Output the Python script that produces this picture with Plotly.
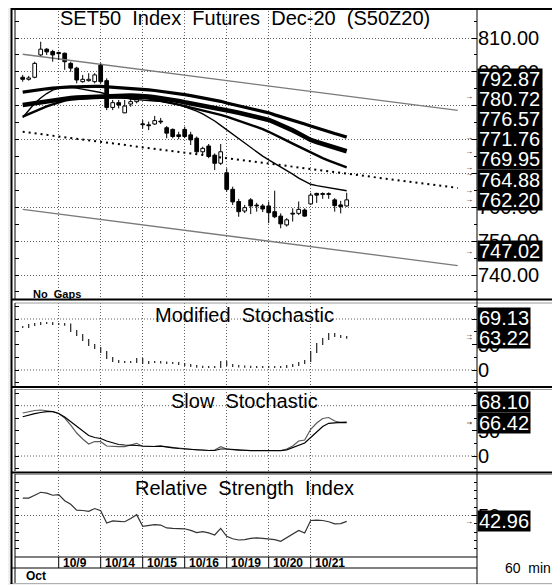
import plotly.graph_objects as go

# ---------------- data ----------------
day_labels = ["10/9", "10/14", "10/15", "10/16", "10/19", "10/20", "10/21"]
day_start_bar = [6, 13, 20, 27, 34, 41, 48]
month_label = "Oct"

opens = [798.4, 797.8, 798.4, 805.0, 806.7, 806.0, 805.7, 805.5, 802.5, 801.1, 797.1, 797.4, 797.1, 802.0, 797.4, 789.5, 790.9, 787.9, 790.5, 791.2,
         784.6, 784.3, 784.6, 785.4, 783.5, 783.0, 781.4, 783.0, 781.4, 780.4, 776.4, 778.1, 775.4, 773.0,
         770.2, 765.3, 761.7, 758.9, 762.2, 760.6, 760.4,
         760.4, 758.7, 757.4, 754.8, 758.2, 758.2, 759.2,
         761.0, 764.1, 764.0, 763.8, 762.2, 760.7, 760.4]
highs = [799.1, 798.8, 803.0, 808.9, 807.0, 806.5, 806.0, 805.7, 803.0, 801.5, 799.1, 799.6, 799.6, 802.5, 798.1, 791.7, 791.7, 791.7, 792.2, 792.7,
         785.8, 785.3, 787.0, 786.4, 784.0, 783.3, 782.3, 783.8, 782.3, 780.9, 777.9, 778.7, 775.9, 778.7,
         771.5, 766.1, 762.5, 760.7, 762.7, 761.3, 761.0,
         761.7, 764.9, 758.2, 756.8, 759.7, 761.7, 759.7,
         764.3, 764.3, 764.4, 764.4, 762.7, 761.9, 764.3]
lows = [797.1, 797.4, 798.1, 804.7, 805.0, 803.0, 803.5, 800.6, 800.0, 796.6, 796.8, 797.1, 796.6, 796.6, 788.7, 788.7, 789.2, 787.8, 789.7, 790.7,
        783.3, 782.8, 784.3, 784.6, 780.4, 780.4, 780.1, 780.4, 778.4, 775.9, 775.4, 774.5, 771.0, 772.5,
        764.6, 760.7, 757.2, 758.3, 758.0, 758.7, 758.6,
        755.3, 756.8, 753.8, 754.3, 755.8, 757.7, 757.2,
        760.7, 761.3, 762.5, 762.5, 758.7, 758.2, 760.2]
closes = [797.8, 798.2, 802.5, 806.7, 805.9, 805.0, 805.4, 803.0, 801.1, 797.6, 797.8, 797.8, 799.1, 797.1, 789.5, 790.9, 790.2, 789.9, 791.2, 791.9,
          784.4, 784.1, 785.6, 785.2, 781.9, 780.9, 780.9, 780.9, 779.9, 776.4, 777.4, 775.0, 773.0, 776.4,
          765.3, 761.6, 758.7, 759.9, 760.4, 760.4, 759.5,
          758.4, 757.2, 755.1, 756.3, 758.0, 759.4, 757.4,
          763.6, 763.6, 763.8, 763.9, 760.5, 760.2, 762.2]

ma_a = [794.0, 794.3, 794.6, 794.8, 795.0, 795.2, 795.4, 795.5, 795.6, 795.6,
        795.7, 795.7, 795.7, 795.7, 795.6, 795.5, 795.4, 795.3, 795.2, 795.0,
        794.9, 794.7, 794.5, 794.3, 794.1, 793.9, 793.6, 793.3, 793.0, 792.7,
        792.4, 792.1, 791.7, 791.3, 790.8, 790.4, 790.0, 789.6, 789.1, 788.7,
        788.3, 787.9, 787.3, 786.8, 786.3, 785.7, 785.1, 784.6, 784.0, 783.4,
        782.9, 782.3, 781.8, 781.3, 780.72]
ma_b = [790.2, 790.5, 790.8, 791.1, 791.3, 791.5, 791.9, 792.1, 792.3, 792.4,
        792.5, 792.6, 792.7, 792.8, 792.9, 792.9, 793.0, 793.0, 793.0, 792.9,
        792.9, 792.7, 792.5, 792.3, 792.0, 791.7, 791.4, 791.0, 790.7, 790.4,
        790.1, 789.8, 789.4, 789.1, 788.7, 788.3, 787.9, 787.5, 787.1, 786.7,
        786.3, 785.8, 785.1, 784.4, 783.6, 782.7, 781.8, 780.8, 779.9, 779.3,
        778.7, 778.1, 777.6, 777.1, 776.57]
ma_c = [786.8, 787.6, 788.4, 789.2, 789.8, 790.4, 791.0, 791.5, 791.8, 792.0,
        792.2, 792.3, 792.4, 792.5, 792.5, 792.5, 792.5, 792.5, 792.5, 792.4,
        792.3, 792.1, 791.8, 791.5, 791.1, 790.7, 790.3, 789.9, 789.5, 789.1,
        788.7, 788.2, 787.8, 787.3, 786.8, 786.2, 785.6, 785.0, 784.4, 783.8,
        783.1, 782.3, 781.5, 780.6, 779.7, 778.8, 777.9, 777.0, 776.1, 775.3,
        774.5, 773.8, 773.1, 772.5, 771.76]
ma_d = [786.5, 788.5, 790.7, 792.3, 793.6, 794.6, 795.2, 795.3, 795.4, 795.2,
        794.9, 794.6, 794.3, 793.9, 793.4, 793.0, 792.6, 792.3, 792.0, 791.8,
        791.6, 791.5, 791.4, 791.3, 791.1, 790.7, 790.3, 789.7, 789.1, 788.4,
        787.6, 786.6, 785.5, 784.2, 782.9, 781.5, 780.2, 778.8, 777.5, 776.3,
        775.1, 774.0, 773.0, 772.0, 771.0, 769.8, 768.6, 767.6, 766.8, 766.4,
        766.1, 765.8, 765.5, 765.2, 764.88]

# regression channel: upper / lower band values at first and last bar, right extension (bar index)
chan_upper = [805.20, 792.87]
chan_lower = [759.40, 747.02]
chan_end_bar = 72.5

mod_stoch = [84.3, 88.2, 90.2, 92.2, 92.2, 90.2, 90.2, 89.0, 76.5, 68.6,
             58.8, 49.0, 43.1, 35.3, 23.5, 17.6, 15.7, 15.7, 15.7, 21.6,
             13.7, 15.7, 15.7, 14.7, 13.7, 13.7, 11.8, 9.8, 7.8, 6.5,
             5.9, 5.9, 5.9, 15.7, 9.8, 7.8, 6.9, 6.5, 5.9, 5.9,
             5.9, 5.9, 5.9, 5.9, 7.8, 9.8, 13.7, 17.6, 35.3, 51.0,
             60.8, 70.6, 66.7, 64.7, 63.22]
mod_stoch_labels = [69.13, 63.22]

slow_k = [85.5, 88.5, 90.5, 91.5, 90.5, 88.5, 84.5, 75.5, 61.6, 45.7,
          33.8, 23.9, 28.8, 28.4, 19.9, 18.9, 18.5, 18.5, 21.9, 25.2,
          18.9, 18.5, 19.3, 19.9, 18.5, 17.3, 14.9, 13.3, 12.9, 11.9,
          11.9, 10.9, 11.9, 18.5, 13.9, 11.9, 10.9, 10.9, 10.9, 10.9,
          10.9, 10.9, 10.9, 10.9, 13.9, 19.9, 29.8, 31.8, 53.1, 65.6,
          74.6, 76.5, 69.6, 66.6, 68.10]
slow_d = [78.1, 81.5, 84.1, 86.5, 88.1, 88.1, 84.5, 77.5, 68.2, 57.7,
          48.3, 40.8, 36.8, 34.8, 29.8, 25.8, 22.9, 21.9, 21.9, 20.9,
          19.9, 18.9, 18.9, 19.5, 18.5, 16.3, 14.9, 13.9, 13.3, 12.3,
          11.3, 10.9, 10.9, 13.9, 13.9, 12.9, 11.3, 10.5, 10.5, 10.5,
          10.5, 10.5, 10.5, 10.5, 12.3, 16.9, 21.9, 25.8, 36.8, 47.7,
          58.6, 65.0, 66.2, 67.0, 66.42]

rsi = [71.0, 71.0, 74.5, 78.0, 77.0, 74.4, 75.2, 67.8, 63.5, 56.5,
       56.0, 55.0, 58.4, 55.7, 41.0, 43.5, 43.0, 42.5, 46.5, 51.0,
       37.0, 38.0, 39.0, 38.5, 35.0, 34.5, 34.5, 34.0, 32.0, 29.5,
       30.5, 29.0, 26.5, 34.5, 25.0, 22.0, 20.5, 21.0, 22.5, 23.0,
       22.5, 22.0, 21.0, 19.0, 23.0, 27.5, 32.0, 29.0, 44.0, 44.5,
       44.0, 42.5, 40.0, 40.2, 42.96]

# axis tick labels (those hidden behind the value boxes are left blank)
main_ticks = [740, 750, 760, 770, 780, 790, 800, 810]
main_tick_text = ["740.00", "750.00", "760.00", "", "", "", "800.00", "810.00"]
osc_ticks = [0, 50, 100]
osc_tick_text = ["0", "50", ""]
rsi_ticks = [50]
rsi_tick_text = ["50"]

# ---------------- geometry (window pixels) ----------------
WIN_W, WIN_H = 560, 585
OFF = 8                      # default page margin of the html body
W, H = WIN_W - OFF, WIN_H - OFF
FONT = "Liberation Sans, Arial, sans-serif"
X0, X1 = 15, 477
BAR0, STEP = 22.7, 6.0


def fx(p):
    return (p - OFF) / W


def fy(p):
    return 1 - (p - OFF) / H


def bar_px(i):
    return BAR0 + STEP * i


xr = [(X0 - BAR0) / STEP, (X1 - BAR0) / STEP]

MAIN_T, MAIN_B = 8, 298
P2_T, P2_B = 303, 386
P3_T, P3_B = 389, 471
P4_T, P4_B = 474, 557

PX_PER_PT = 3.386
main_v2p = lambda v: 38 + (810 - v) * PX_PER_PT
main_range = [810 - (MAIN_B - 38) / PX_PER_PT, 810 + (38 - MAIN_T) / PX_PER_PT]
p2_v2p = lambda v: 370 - 0.51 * v
p2_range = [-(P2_B - 370) / 0.51, (370 - P2_T) / 0.51]
p3_v2p = lambda v: 456 - 0.503 * v
p3_range = [-(P3_B - 456) / 0.503, (456 - P3_T) / 0.503]
p4_v2p = lambda v: P4_B - (P4_B - P4_T) / 100.0 * v
p4_range = [0, 100]

n = len(closes)
idx = list(range(n))

fig = go.Figure()

# ---- main panel ----
last = n - 1


def extend(pair):
    s = (pair[1] - pair[0]) / last
    return [pair[0], pair[0] + s * chan_end_bar]


cx = [0, chan_end_bar]
up_line = extend(chan_upper)
lo_line = extend(chan_lower)
mid_line = [(a + b) / 2 for a, b in zip(up_line, lo_line)]
chan_mid_last = round((chan_upper[1] + chan_lower[1]) / 2 + 1e-9, 2)

fig.add_trace(go.Scatter(x=cx, y=up_line, mode="lines",
                         line=dict(color="#7a7a7a", width=1.3), xaxis="x", yaxis="y"))
fig.add_trace(go.Scatter(x=cx, y=lo_line, mode="lines",
                         line=dict(color="#7a7a7a", width=1.3), xaxis="x", yaxis="y"))
fig.add_trace(go.Scatter(x=cx, y=mid_line, mode="lines",
                         line=dict(color="black", width=2, dash="2px,4px"), xaxis="x", yaxis="y"))

# moving averages
for ser, w in [(ma_a, 3.2), (ma_b, 4.6), (ma_c, 2.4), (ma_d, 1.4)]:
    fig.add_trace(go.Scatter(x=idx, y=ser, mode="lines", line=dict(color="black", width=w),
                             xaxis="x", yaxis="y"))

# wicks
wx, wy = [], []
for i in idx:
    top = max(opens[i], closes[i])
    bot = min(opens[i], closes[i])
    wx += [i, i, None, i, i, None]
    wy += [highs[i], top, None, bot, lows[i], None]
fig.add_trace(go.Scatter(x=wx, y=wy, mode="lines", line=dict(color="black", width=1),
                         xaxis="x", yaxis="y"))
# bodies
base = [min(o, c) for o, c in zip(opens, closes)]
hgt = [max(abs(c - o), 0.25) for o, c in zip(opens, closes)]
cols = ["white" if c >= o else "black" for o, c in zip(opens, closes)]
fig.add_trace(go.Bar(x=idx, y=hgt, base=base, width=0.62,
                     marker=dict(color=cols, line=dict(color="black", width=1)),
                     xaxis="x", yaxis="y"))

# ---- modified stochastic: vertical strokes ----
mx, my = [], []
for i in idx:
    prev = mod_stoch[i - 1] if i > 0 else mod_stoch[i]
    lo = min(prev, mod_stoch[i]) - 2.0
    hi = max(prev, mod_stoch[i]) + 2.0
    mx += [i, i, None]
    my += [lo, hi, None]
fig.add_trace(go.Scatter(x=mx, y=my, mode="lines", line=dict(color="#222", width=1.2),
                         xaxis="x2", yaxis="y2"))

# ---- slow stochastic ----
fig.add_trace(go.Scatter(x=idx, y=slow_k, mode="lines", line=dict(color="#5a5a5a", width=1.2),
                         xaxis="x3", yaxis="y3"))
fig.add_trace(go.Scatter(x=idx, y=slow_d, mode="lines", line=dict(color="black", width=1.2),
                         xaxis="x3", yaxis="y3"))

# ---- RSI ----
fig.add_trace(go.Scatter(x=idx, y=rsi, mode="lines", line=dict(color="#333", width=1.2),
                         xaxis="x4", yaxis="y4"))

GRID = dict(showgrid=True, gridcolor="#606060", griddash="1px,2px", gridwidth=1)


def xax(anchor):
    d = dict(domain=[fx(X0), fx(X1)], range=xr, anchor=anchor, tickmode="array",
             tickvals=day_start_bar, showticklabels=False, ticks="", zeroline=False,
             showline=False, fixedrange=True)
    d.update(GRID)
    return d


def yax_right(anchor, top, bot, rng, **kw):
    d = dict(domain=[fy(bot), fy(top)], range=rng, anchor=anchor, side="right",
             ticks="inside", ticklen=5, tickcolor="black", zeroline=False, showline=False,
             tickfont=dict(family=FONT, size=20, color="black"), fixedrange=True)
    d.update(kw)
    return d


def yax_left(over, anchor, rng, dt):
    return dict(overlaying=over, anchor=anchor, side="left", range=rng, ticks="inside",
                ticklen=4, tickcolor="black", tick0=0, dtick=dt, showticklabels=False,
                showgrid=False, zeroline=False, showline=False, fixedrange=True)


layout = dict(
    width=W, height=H, margin=dict(l=0, r=0, t=0, b=0),
    paper_bgcolor="#f0f0f0", plot_bgcolor="white", showlegend=False,
    hovermode=False, barmode="overlay", font=dict(family=FONT, color="black"),
    xaxis=xax("y"), xaxis2=xax("y2"), xaxis3=xax("y3"), xaxis4=xax("y4"),
    yaxis=yax_right("x", MAIN_T, MAIN_B, main_range, tickmode="array", tickvals=main_ticks,
                    ticktext=main_tick_text,
                    minor=dict(ticks="inside", ticklen=3, tick0=0, dtick=5, tickcolor="black",
                               showgrid=False), **GRID),
    yaxis2=yax_right("x2", P2_T, P2_B, p2_range, tickmode="array", tickvals=osc_ticks,
                     ticktext=osc_tick_text, showgrid=False,
                     minor=dict(ticks="inside", ticklen=3, tick0=0, dtick=25, tickcolor="black",
                                showgrid=False)),
    yaxis3=yax_right("x3", P3_T, P3_B, p3_range, tickmode="array", tickvals=osc_ticks,
                     ticktext=osc_tick_text, showgrid=False,
                     minor=dict(ticks="inside", ticklen=3, tick0=0, dtick=25, tickcolor="black",
                                showgrid=False)),
    yaxis4=yax_right("x4", P4_T, P4_B, p4_range, tickmode="array", tickvals=rsi_ticks,
                     ticktext=rsi_tick_text,
                     minor=dict(ticks="inside", ticklen=3, tick0=0, dtick=10, tickcolor="black",
                                showgrid=False), **GRID),
    yaxis5=yax_left("y", "x", main_range, 5),
    yaxis6=yax_left("y2", "x2", p2_range, 25),
    yaxis7=yax_left("y3", "x3", p3_range, 25),
    yaxis8=yax_left("y4", "x4", p4_range, 10),
)
fig.update_layout(**layout)

# invisible traces to activate the left tick axes
for k, ya in enumerate(["y5", "y6", "y7", "y8"]):
    fig.add_trace(go.Scatter(x=[None], y=[None], xaxis=["x", "x2", "x3", "x4"][k], yaxis=ya,
                             mode="lines"))

shapes = []


def hline(y, x0, x1, color="black", width=1, layer="above"):
    shapes.append(dict(type="line", xref="paper", yref="paper", x0=fx(x0), x1=fx(x1),
                       y0=fy(y), y1=fy(y), line=dict(color=color, width=width), layer=layer))


def vline(x, y0, y1, color="black", width=1):
    shapes.append(dict(type="line", xref="paper", yref="paper", x0=fx(x), x1=fx(x),
                       y0=fy(y0), y1=fy(y1), line=dict(color=color, width=width), layer="above"))


# white chart area
shapes.append(dict(type="rect", xref="paper", yref="paper", x0=fx(10), x1=1, y0=fy(583), y1=1,
                   fillcolor="white", line=dict(width=0), layer="below"))
# stochastic gridlines
for ref in ["y2", "y3"]:
    for v in [0, 100]:
        shapes.append(dict(type="line", xref="paper", yref=ref, x0=fx(X0), x1=fx(X1), y0=v, y1=v,
                           line=dict(color="#606060", width=1, dash="1px,2px"), layer="below"))
# frames
hline(9, 11, 560, width=2)
hline(299.5, 11, 560, width=2)
hline(303, 15, 560, color="#9a9a9a")
hline(387, 11, 560, width=2)
hline(389.5, 15, 560, color="#9a9a9a")
hline(472.5, 11, 560, width=2)
hline(474.5, 15, 560, color="#9a9a9a")
hline(557, 15, 477)
hline(568, 12, 477)
hline(583.5, 10, 560, color="#b0b0b0")
vline(11.5, 8, 584, width=2)
for t, b in [(MAIN_T, MAIN_B + 1), (P2_T, P2_B), (P3_T, P3_B), (P4_T, 583)]:
    vline(15, t, b)
vline(477, 8, 584)
for i in day_start_bar:
    vline(bar_px(i), 557, 568)

annotations = []


def text(x, y, s, size=20, anchor="center", color="black", **kw):
    annotations.append(dict(xref="paper", yref="paper", x=fx(x), y=fy(y), text=s, showarrow=False,
                            xanchor=anchor, yanchor="middle",
                            font=dict(family=FONT, size=size, color=color), **kw))


text(245, 18, "SET50  Index  Futures  Dec-20  (S50Z20)")
text(244, 315, "Modified  Stochastic")
text(244, 401, "Slow  Stochastic")
text(244, 488, "Relative  Strength  Index")
text(31, 294, "<b>No  Gaps</b>", size=11, anchor="left")
text(503, 568, "60  min", size=14, anchor="left")
text(24, 576, "<b>" + month_label + "</b>", size=12, anchor="left")
for lab, i in zip(day_labels, day_start_bar):
    text(bar_px(i) + 2.5, 562.5, "<b>" + lab + "</b>", size=12, anchor="left")


def value_boxes(values, v2p, fmt, box_w):
    prev = 1e9
    for v in sorted(values):
        true_y = v2p(v)
        y = min(true_y, prev - 20.2)
        prev = y
        annotations.append(dict(xref="paper", yref="paper", x=fx(477.5), y=fy(y), text=fmt.format(v),
                                showarrow=False, xanchor="left", yanchor="middle", align="left",
                                width=box_w, height=18.2, borderpad=1, bgcolor="black",
                                font=dict(family=FONT, size=20, color="white")))
        text(469, true_y, "→", size=8)


main_marks = [ma_a[-1], ma_b[-1], ma_c[-1], ma_d[-1], chan_mid_last, chan_upper[1],
              chan_lower[1], closes[-1]]
value_boxes(main_marks, main_v2p, "{:.2f}", 62)
value_boxes(mod_stoch_labels, p2_v2p, "{:.2f}", 50)
value_boxes([slow_k[-1], slow_d[-1]], p3_v2p, "{:.2f}", 50)
value_boxes([rsi[-1]], p4_v2p, "{:.2f}", 50)

fig.update_layout(shapes=shapes, annotations=annotations)
fig.write_html("out.html")
